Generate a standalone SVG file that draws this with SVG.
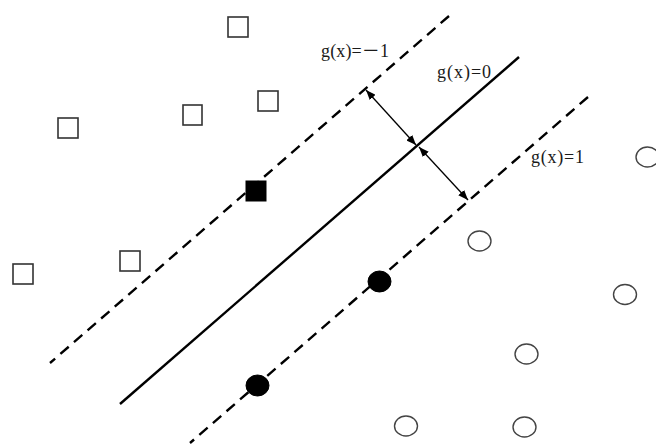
<svg xmlns="http://www.w3.org/2000/svg" width="656" height="444" viewBox="0 0 656 444">
<style>
.sq{fill:#fff;stroke:#333;stroke-width:1.6}
.sqf{fill:#000;stroke:#000;stroke-width:1}
.ci{fill:#fff;stroke:#444;stroke-width:1.4}
.cif{fill:#000;stroke:#000;stroke-width:1}
.solid{stroke:#000;stroke-width:2.4;fill:none}
.dash{stroke:#000;stroke-width:2.4;fill:none;stroke-dasharray:11 7}
.arr{stroke:#000;stroke-width:1.3;fill:none;marker-start:url(#ah);marker-end:url(#ah)}
.lbl{font-family:"Liberation Serif","Noto Sans CJK SC",serif;font-size:18px;fill:#1a1a1a}
</style>
<defs>
<marker id="ah" viewBox="0 0 10 8" refX="10" refY="4" markerWidth="10" markerHeight="8" markerUnits="userSpaceOnUse" orient="auto-start-reverse">
<path d="M0,0 L10,4 L0,8 Z" fill="#000"/>
</marker>
</defs>
<rect width="656" height="444" fill="#fff"/>
<g id="connectors">
<line class="dash" x1="449" y1="16" x2="50" y2="363"/>
<line class="solid" x1="519" y1="57" x2="120" y2="404"/>
<line class="dash" x1="588" y1="97" x2="190" y2="443"/>
<line class="arr" x1="366" y1="90" x2="416" y2="145"/>
<line class="arr" x1="419" y1="147" x2="468" y2="200"/>
</g>
<g id="sq1"><rect class="sq" x="228" y="17" width="20" height="20"/></g>
<g id="sq2"><rect class="sq" x="258" y="91" width="20" height="20"/></g>
<g id="sq3"><rect class="sq" x="183" y="105" width="19" height="20"/></g>
<g id="sq4"><rect class="sq" x="58" y="118" width="20" height="20"/></g>
<g id="sq5"><rect class="sqf" x="246" y="181" width="20" height="20"/></g>
<g id="sq6"><rect class="sq" x="120" y="251" width="20" height="20"/></g>
<g id="sq7"><rect class="sq" x="13" y="264" width="20" height="20"/></g>
<g id="c1"><ellipse class="ci" cx="647.5" cy="157" rx="11.5" ry="10"/></g>
<g id="c2"><ellipse class="ci" cx="479.5" cy="241" rx="11.5" ry="10"/></g>
<g id="c3"><ellipse class="cif" cx="379.5" cy="281.5" rx="11.5" ry="10.5"/></g>
<g id="c4"><ellipse class="ci" cx="625" cy="294.5" rx="11.5" ry="10"/></g>
<g id="c5"><ellipse class="ci" cx="526.5" cy="354" rx="11.5" ry="10"/></g>
<g id="c6"><ellipse class="cif" cx="257.5" cy="385.5" rx="11.5" ry="10.5"/></g>
<g id="c7"><ellipse class="ci" cx="406" cy="426" rx="11.5" ry="10"/></g>
<g id="c8"><ellipse class="ci" cx="524.5" cy="427" rx="11.5" ry="10"/></g>
<g id="labels">
<text class="lbl" x="321" y="57" textLength="68" lengthAdjust="spacing">g(x)=－1</text>
<text class="lbl" x="437" y="78" textLength="54" lengthAdjust="spacing">g(x)=0</text>
<text class="lbl" x="531" y="163" textLength="53" lengthAdjust="spacing">g(x)=1</text>
</g>
</svg>
